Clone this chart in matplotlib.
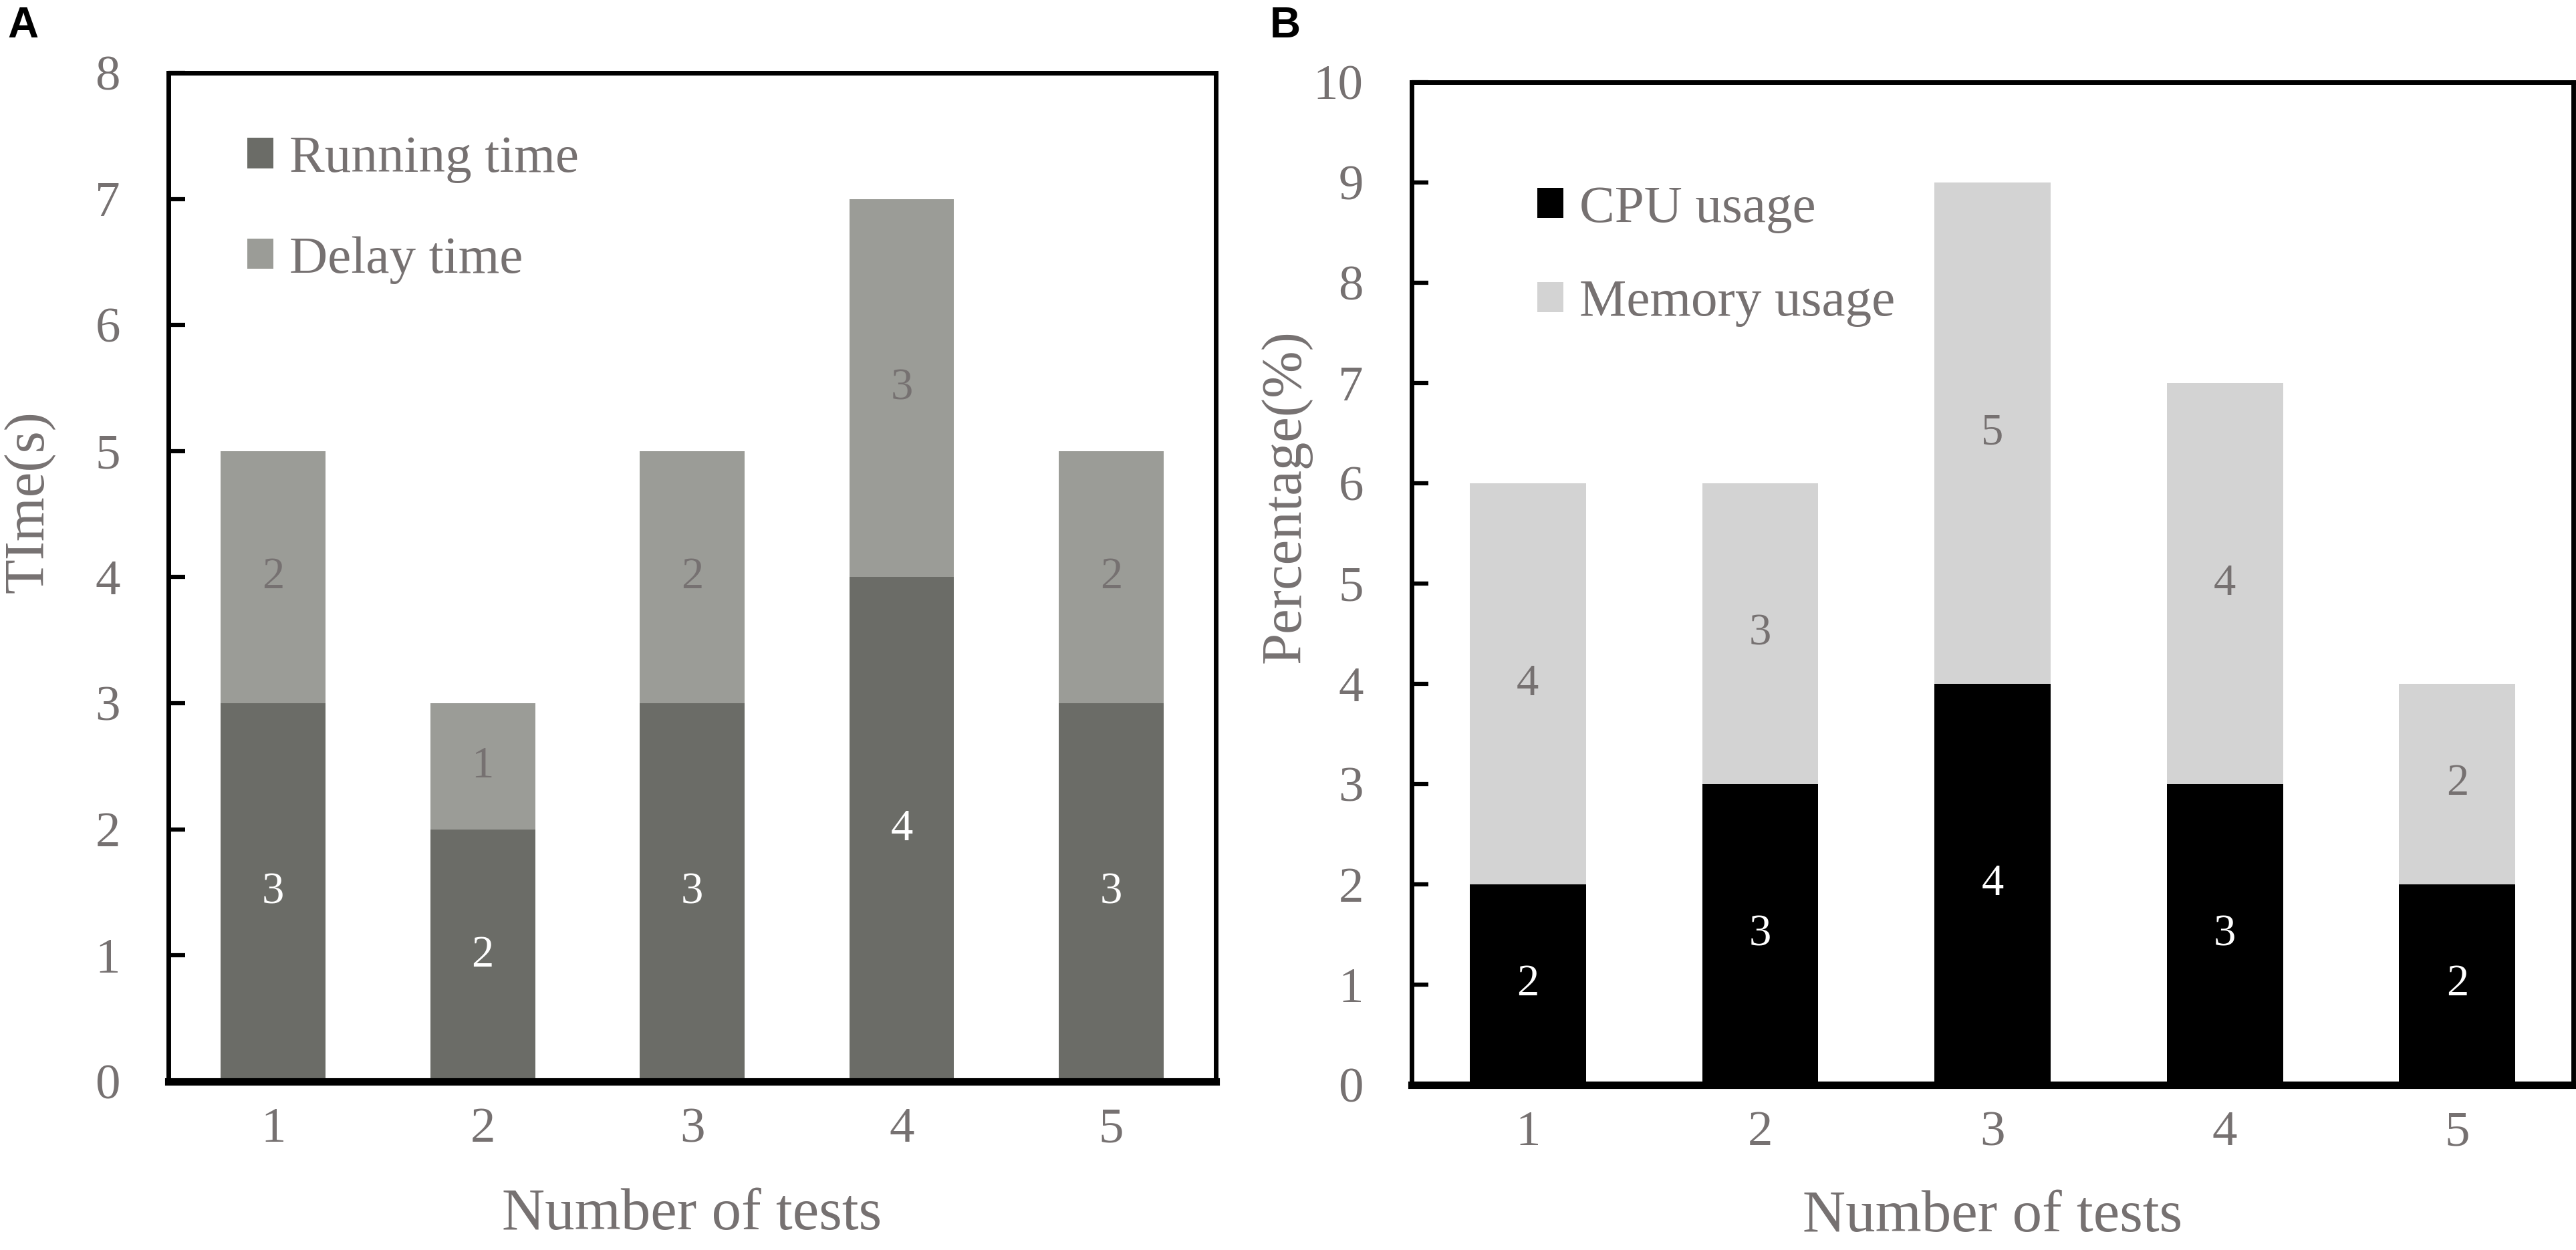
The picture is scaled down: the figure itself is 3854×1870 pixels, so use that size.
import matplotlib
matplotlib.use("Agg")
import matplotlib.pyplot as plt
import numpy as np

# data
tests = [1, 2, 3, 4, 5]
running_time = [3, 2, 3, 4, 3]
delay_time = [2, 1, 2, 3, 2]
cpu_usage = [2, 3, 4, 3, 2]
memory_usage = [4, 3, 5, 4, 2]

gray_text = '#767171'
plt.rcParams['font.family'] = ['Liberation Serif', 'DejaVu Serif']

fig = plt.figure(figsize=(38.54, 18.70), dpi=100)
axA = fig.add_axes([0.0654, 0.1348, 0.4066, 0.8069])
axB = fig.add_axes([0.548, 0.1321, 0.451, 0.8021])


def style_axis(ax, ymax, xlabel, ylabel, ylab_x, ylab_y):
    ax.set_xlim(0.5, 5.5)
    ax.set_ylim(0, ymax)
    ax.set_yticks(range(ymax + 1))
    ax.set_xticks(tests)
    for s in ['top', 'right', 'left']:
        ax.spines[s].set_linewidth(5)
    ax.spines['bottom'].set_linewidth(8)
    ax.tick_params(axis='y', direction='in', length=18, width=4.5,
                   pad=52, labelsize=54, labelcolor=gray_text)
    ax.tick_params(axis='x', length=0, pad=28, labelsize=54,
                   labelcolor=gray_text)
    ax.set_xlabel(xlabel, fontsize=64, color=gray_text, va='center')
    ax.xaxis.set_label_coords(0.5, -0.132)
    ax.set_ylabel(ylabel, fontsize=61, color=gray_text, va='center')
    ax.yaxis.set_label_coords(ylab_x, ylab_y)


def label_bars(ax, bars, values, bottoms, color):
    for b, v, base in zip(bars, values, bottoms):
        ax.text(b.get_x() + b.get_width() / 2, base + v / 2, str(v),
                ha='center', va='center', fontsize=48, color=color)


def add_legend(ax, x, y, spacing):
    leg = ax.legend(loc='upper left', bbox_to_anchor=(x, y), frameon=False,
                    fontsize=57, handlelength=0.5, handleheight=0.5,
                    handletextpad=0.3, labelspacing=spacing, borderpad=0,
                    borderaxespad=0)
    for t in leg.get_texts():
        t.set_color(gray_text)


# panel A
b1 = axA.bar(tests, running_time, width=0.5, color='#6b6c67', label='Running time')
b2 = axA.bar(tests, delay_time, width=0.5, bottom=running_time, color='#9b9c97',
             label='Delay time')
label_bars(axA, b1, running_time, [0] * 5, 'white')
label_bars(axA, b2, delay_time, running_time, gray_text)
style_axis(axA, 8, 'Number of tests', 'TIme(s)', -0.133, 0.575)
add_legend(axA, 0.075, 0.938, 1.0)

# panel B
c1 = axB.bar(tests, cpu_usage, width=0.5, color='black', label='CPU usage')
c2 = axB.bar(tests, memory_usage, width=0.5, bottom=cpu_usage, color='#d3d3d3',
             label='Memory usage')
label_bars(axB, c1, cpu_usage, [0] * 5, 'white')
label_bars(axB, c2, memory_usage, cpu_usage, gray_text)
style_axis(axB, 10, 'Number of tests', 'Percentage(%)', -0.108, 0.587)
add_legend(axB, 0.108, 0.897, 0.87)

fig.text(0.003, 0.995, 'A', fontsize=46, fontweight='bold', va='top',
         family='Liberation Sans')
fig.text(0.493, 0.995, 'B', fontsize=46, fontweight='bold', va='top',
         family='Liberation Sans')

fig.savefig('out.png', dpi=100)
